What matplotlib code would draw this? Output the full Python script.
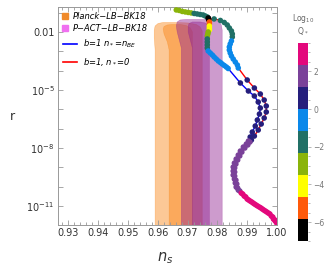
import numpy as np
import matplotlib
matplotlib.use("Agg")
import matplotlib.pyplot as plt
from matplotlib.colors import ListedColormap, BoundaryNorm
from matplotlib.patches import Polygon
from matplotlib.lines import Line2D
from matplotlib.ticker import FixedLocator, FixedFormatter, MultipleLocator, NullLocator
import matplotlib.cm as cm

# ---------------- data ----------------
# contour regions (ns, log10 r) boundaries
planck2_ns = [0.9591, 0.9591, 0.9588, 0.9588, 0.9591, 0.9601, 0.9618, 0.9658, 0.9702, 0.9729, 0.9742, 0.9749, 0.9749, 0.9749]
planck2_lr = [-13, -2.931, -2.310, -1.897, -1.690, -1.560, -1.509, -1.509, -1.534, -1.612, -1.741, -1.948, -2.414, -13]
planck1_ns = [0.9638, 0.9638, 0.9632, 0.9621, 0.9618, 0.9621, 0.9632, 0.9648, 0.9675, 0.9695, 0.9709, 0.9716, 0.9716]
planck1_lr = [-13, -2.931, -2.517, -2.103, -1.845, -1.715, -1.638, -1.612, -1.612, -1.664, -1.793, -2.0, -13]
pact2_ns = [0.9679, 0.9679, 0.9672, 0.9665, 0.9662, 0.9665, 0.9675, 0.9695, 0.9759, 0.9789, 0.9806, 0.9813, 0.9816, 0.9816]
pact2_lr = [-13, -2.828, -2.414, -2.0, -1.690, -1.483, -1.379, -1.353, -1.353, -1.379, -1.483, -1.638, -1.897, -13]
pact1_ns = [0.9716, 0.9716, 0.9709, 0.9702, 0.9702, 0.9705, 0.9716, 0.9742, 0.9759, 0.9769, 0.9773, 0.9773]
pact1_lr = [-13, -2.828, -2.414, -2.0, -1.690, -1.560, -1.483, -1.483, -1.534, -1.664, -1.845, -13]

# b=1, n*=n_BE  (blue line)
blue_ns = [0.9662, 0.9672, 0.9682, 0.9692, 0.9702, 0.9712, 0.9722, 0.9732, 0.9742, 0.9752, 0.9759, 0.9766,
           0.9769, 0.9771, 0.9773, 0.9773, 0.9773, 0.9773, 0.9773, 0.9769, 0.9768, 0.9766,
           0.9766, 0.9766, 0.9766, 0.9766,
           0.9769, 0.9776, 0.9783, 0.9789, 0.9796, 0.9803, 0.9810, 0.9816, 0.9823, 0.9830, 0.9836,
           0.9877, 0.9904, 0.9924, 0.9937, 0.9944, 0.9941, 0.9934, 0.9927, 0.9917, 0.9910,
           0.9904, 0.9897, 0.9887, 0.9877, 0.9870, 0.9863, 0.9857, 0.9853, 0.9853, 0.9853, 0.9857, 0.9860, 0.9863, 0.9870,
           0.9880, 0.9890, 0.9900, 0.9910, 0.9920, 0.9930, 0.9941, 0.9951, 0.9961, 0.9971, 0.9981, 0.9988, 0.9994, 0.9999]
blue_lr = [-0.862, -0.888, -0.940, -0.965, -0.991, -1.017, -1.043, -1.069, -1.095, -1.121, -1.172, -1.224,
           -1.276, -1.379, -1.483, -1.586, -1.690, -1.793, -1.897, -2.0, -2.103, -2.207,
           -2.362, -2.517, -2.672, -2.828,
           -2.983, -3.086, -3.190, -3.293, -3.397, -3.500, -3.578, -3.655, -3.733, -3.811, -3.888,
           -4.638, -5.052, -5.311, -5.621, -5.931, -6.242, -6.552, -6.863, -7.173, -7.432,
           -7.639, -7.794, -7.949, -8.156, -8.363, -8.570, -8.777, -8.984, -9.191, -9.398, -9.605, -9.811, -10.018, -10.173,
           -10.329, -10.484, -10.639, -10.742, -10.846, -10.949, -11.053, -11.156, -11.259, -11.363, -11.518, -11.674, -11.777, -11.880]
blue_lq = [-2.9] * 6 + [-1.7] * 6 + [-6.5] * 2 + [-5.3] * 2 + [-4.1] * 3 + [-2.9] * 3 + [-1.7] * 4 + \
          [-0.6] * 11 + [0.6] * 10 + [1.7] * 14 + [2.9] * 14

# b=1, n*=0  (red line)
red_ns = [0.9769, 0.9789, 0.9810, 0.9823, 0.9833, 0.9840, 0.9847, 0.9850, 0.9850,
          0.9847, 0.9843, 0.9840, 0.9840, 0.9843, 0.9847, 0.9853, 0.9860, 0.9867, 0.9870,
          0.9900, 0.9924, 0.9944, 0.9957, 0.9964, 0.9964, 0.9957, 0.9947, 0.9937, 0.9924, 0.9914,
          0.9909, 0.9902, 0.9892, 0.9882, 0.9875, 0.9868, 0.9862, 0.9858, 0.9858, 0.9858, 0.9862, 0.9865, 0.9868, 0.9875,
          0.9885, 0.9895, 0.9905, 0.9915, 0.9925, 0.9935, 0.9946, 0.9956, 0.9966, 0.9976, 0.9986, 0.9993, 0.9999]
red_lr = [-1.276, -1.327, -1.405, -1.509, -1.638, -1.793, -1.948, -2.103, -2.259,
          -2.466, -2.621, -2.776, -2.931, -3.086, -3.242, -3.397, -3.552, -3.707, -3.862,
          -4.483, -4.897, -5.207, -5.518, -5.828, -6.138, -6.449, -6.759, -7.069, -7.380, -7.587,
          -7.69, -7.84, -8.00, -8.21, -8.41, -8.62, -8.83, -9.03, -9.24, -9.45, -9.66, -9.86, -10.07, -10.22,
          -10.38, -10.53, -10.69, -10.79, -10.90, -11.00, -11.10, -11.21, -11.31, -11.41, -11.57, -11.72, -11.83]
red_lq = [-6.5] + [-1.7] * 8 + [-0.6] * 10 + [0.6] * 11 + [1.7] * 14 + [2.9] * 13

band_colors = ["#000000", "#FF5A0A", "#FFFF00", "#8AB40A", "#217066", "#0A88EA", "#251E7C", "#7A4199", "#E3087C"]
band_bounds = [-7, -5.8333, -4.6667, -3.5, -2.3333, -1.1667, 0, 1.1667, 2.3333, 3.5]
cbar_ticks = [-6, -4, -2, 0, 2]

x_ticks = [0.93, 0.94, 0.95, 0.96, 0.97, 0.98, 0.99, 1.00]
y_tick_pos = [1e-2, 1e-5, 1e-8, 1e-11]
y_tick_lab = ["0.01", r"10$^{-5}$", r"10$^{-8}$", r"10$^{-11}$"]

# ---------------- figure ----------------
plt.rcParams['font.family'] = ['DejaVu Sans']
fig = plt.figure(figsize=(3.27, 2.74), dpi=100)
ax = fig.add_axes([0.1774, 0.1788, 0.6697, 0.7956])
ax.set_yscale('log')
ax.set_xlim(0.9265, 1.0)
ax.set_ylim(10 ** -11.98, 10 ** -0.71)

orange = (250 / 255, 133 / 255, 22 / 255)
purple = (144 / 255, 33 / 255, 144 / 255)
a = 0.45
for ns, lr, col in [(planck2_ns, planck2_lr, orange), (planck1_ns, planck1_lr, orange),
                    (pact2_ns, pact2_lr, purple), (pact1_ns, pact1_lr, purple)]:
    pts = np.column_stack([ns, 10 ** np.array(lr)])
    ax.add_patch(Polygon(pts, closed=True, facecolor=col, alpha=a, edgecolor=col,
                         linewidth=0.4, joinstyle='round', zorder=1))

cmap = ListedColormap(band_colors)
norm = BoundaryNorm(band_bounds, cmap.N)

ax.plot(red_ns, 10 ** np.array(red_lr), color='#FF0000', lw=1.0, zorder=2)
ax.plot(blue_ns[12:], 10 ** np.array(blue_lr[12:]), color='#0000FF', lw=1.0, zorder=2)
ax.scatter(red_ns, 10 ** np.array(red_lr), c=red_lq, cmap=cmap, norm=norm, s=16, linewidths=0, zorder=3)
ax.scatter(blue_ns, 10 ** np.array(blue_lr), c=blue_lq, cmap=cmap, norm=norm, s=16, linewidths=0, zorder=4)

# ticks
tick_col = '#333333'
spine_col = '#999999'
for s in ax.spines.values():
    s.set_color(spine_col)
    s.set_linewidth(0.7)
ax.xaxis.set_major_locator(FixedLocator(x_ticks))
ax.xaxis.set_major_formatter(FixedFormatter(["%.2f" % v for v in x_ticks]))
ax.xaxis.set_minor_locator(MultipleLocator(0.002))
ax.yaxis.set_major_locator(FixedLocator([10.0 ** k for k in range(-12, 0)]))
labs = []
for k in range(-12, 0):
    lab = ""
    for p, l in zip(y_tick_pos, y_tick_lab):
        if abs(np.log10(p) - k) < 1e-6:
            lab = l
    labs.append(lab)
ax.yaxis.set_major_formatter(FixedFormatter(labs))
ax.yaxis.set_minor_locator(NullLocator())
ax.tick_params(which='both', direction='in', top=True, right=True, color=spine_col, width=0.6,
               labelcolor=tick_col, labelsize=7)
ax.tick_params(which='major', length=3.5, pad=2.5)
ax.tick_params(which='minor', length=2)

ax.set_ylabel('r', rotation=0, fontsize=9, color=tick_col)
ax.yaxis.set_label_coords(-0.21, 0.5)
ax.set_xlabel(r'$n_s$', fontsize=10.5, color=tick_col)
ax.xaxis.set_label_coords(0.489, -0.15)
ax.xaxis.label.set_verticalalignment('center')
ax.yaxis.label.set_verticalalignment('center')

# legends
h1 = [Line2D([], [], ls='none', marker='s', ms=4.5, mfc='#F08A2A', mec='#F08A2A'),
      Line2D([], [], ls='none', marker='s', ms=4.5, mfc='#F070F0', mec='#F070F0')]
leg1 = ax.legend(h1, [u'Planck\u2212LB\u2212BK18', u'P\u2212ACT\u2212LB\u2212BK18'],
                 loc='upper left', bbox_to_anchor=(0.018, 0.977), borderaxespad=0, borderpad=0,
                 frameon=False, handlelength=0.8, handletextpad=0.5, labelspacing=0.3,
                 prop={'size': 6, 'style': 'italic'})
ax.add_artist(leg1)
h2 = [Line2D([], [], color='#0000FF', lw=1.2), Line2D([], [], color='#FF0000', lw=1.2)]
leg2 = ax.legend(h2, [r'b=1 n$_*$=n$_{BE}$', r'b=1, n$_*$=0'],
                 loc='upper left', bbox_to_anchor=(0.023, 0.858), borderaxespad=0, borderpad=0,
                 frameon=False, handlelength=1.68, handletextpad=0.72, labelspacing=0.75,
                 prop={'size': 6, 'style': 'italic'})

# colorbar
cax = fig.add_axes([0.911, 0.1204, 0.0306, 0.7226])
sm = cm.ScalarMappable(norm=norm, cmap=cmap)
cb = fig.colorbar(sm, cax=cax, ticks=cbar_ticks, boundaries=band_bounds, spacing='proportional')
cb.outline.set_visible(False)
cax.yaxis.set_minor_locator(FixedLocator(np.arange(-7, 3.51, 0.5)))
cax.tick_params(which='both', direction='out', color='#999999', width=0.5, labelsize=5.5,
                labelcolor='#777777', pad=1.5)
cax.tick_params(which='major', length=2.5)
cax.tick_params(which='minor', length=1.5)
cax.set_yticklabels([u'\u22126', u'\u22124', u'\u22122', '0', '2'])
cax.text(0.5, 1.03, 'Log$_{10}$\nQ$_*$', transform=cax.transAxes, ha='center', va='bottom',
         fontsize=5.5, color='#666666', linespacing=1.1)

fig.savefig('out.png', dpi=100)
